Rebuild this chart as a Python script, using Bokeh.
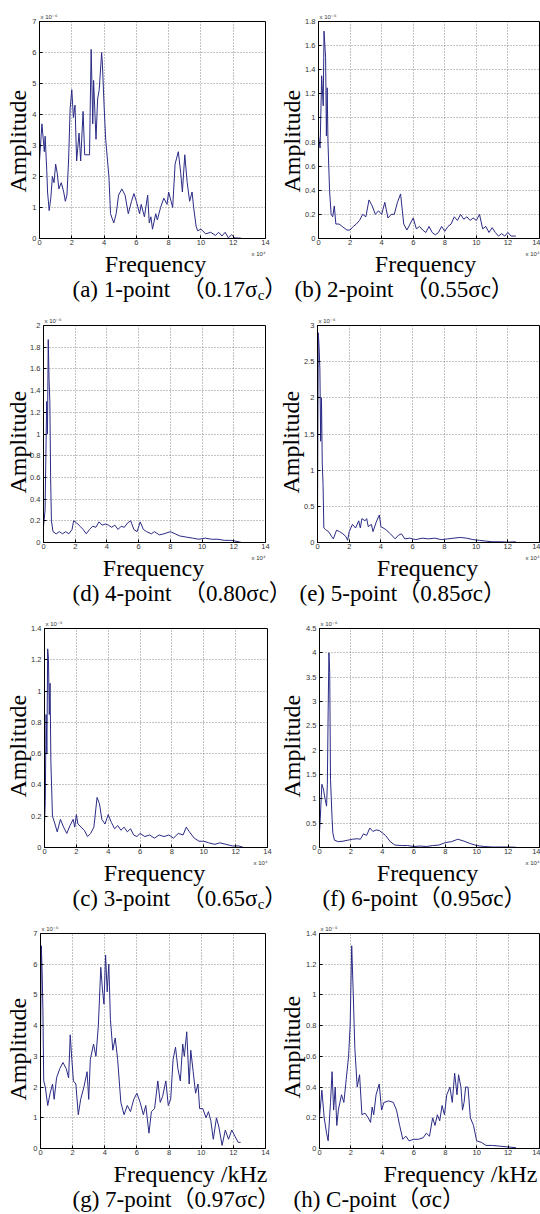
from bokeh.plotting import figure
from bokeh.models import Range1d, FixedTicker, Label, Title
from bokeh.layouts import column, row
from bokeh.embed import file_html
from bokeh.resources import INLINE

# ---------------- data ----------------
x_ticks = [0, 2, 4, 6, 8, 10, 12, 14]
x_tick_labels = ["0", "2", "4", "6", "8", "10", "12", "14"]

# (a) 1-point
a_freq = [0, 0.15, 0.3, 0.35, 0.45, 0.5, 0.6, 0.7, 0.8, 0.9,
          1.0, 1.1, 1.2, 1.35, 1.5, 1.6, 1.7, 1.8, 1.9, 2.0,
          2.1, 2.2, 2.3, 2.45, 2.55, 2.7, 2.8, 3.1, 3.15, 3.2,
          3.3, 3.35, 3.5, 3.6, 3.7, 3.85, 3.9, 4.0, 4.1, 4.3,
          4.4, 4.6, 4.75, 4.9, 5.1, 5.3, 5.5, 5.7, 5.85, 6.0,
          6.2, 6.3, 6.5, 6.7, 6.8, 6.9, 7.0, 7.2, 7.3, 7.5,
          7.7, 7.9, 8.0, 8.15, 8.25, 8.4, 8.6, 8.75, 8.85, 9.0,
          9.15, 9.3, 9.45, 9.55, 9.7, 9.8, 10.0, 10.3, 10.6, 10.9,
          11.1, 11.3, 11.5, 11.7, 11.9, 12.1, 12.5]
a_amp = [2.5, 3.7, 2.8, 3.3, 2.2, 1.5, 0.9, 1.3, 2.0, 1.8,
         2.4, 2.1, 1.6, 1.8, 1.5, 1.2, 1.4, 2.5, 4.2, 4.8,
         3.9, 4.3, 2.5, 3.4, 2.5, 4.1, 2.7, 2.7, 4.5, 6.1,
         3.7, 5.1, 3.2, 4.5, 4.8, 6.0, 5.6, 4.3, 3.2, 2.0,
         0.8, 0.5, 0.8, 1.4, 1.6, 1.4, 0.8, 1.2, 1.45, 1.2,
         0.8, 1.1, 0.7, 1.4, 0.5, 0.7, 0.3, 0.8, 0.6, 1.0,
         1.3, 1.1, 1.5, 1.2, 1.0, 2.4, 2.8, 2.1, 1.5, 2.7,
         1.8, 1.2, 1.5, 1.0, 0.4, 0.25, 0.3, 0.15, 0.2, 0.1,
         0.2, 0.08, 0.2, 0.02, 0.12, 0.02, 0.01]
a_yticks = [0, 1, 2, 3, 4, 5, 6, 7]
a_ylabels = ["0", "1", "2", "3", "4", "5", "6", "7"]

# (b) 2-point
b_freq = [0, 0.1, 0.2, 0.3, 0.35, 0.45, 0.5, 0.55, 0.6, 0.7,
          0.8, 0.9, 1.0, 1.1, 1.3, 1.5, 1.8, 2.0, 2.2, 2.4,
          2.6, 2.8, 3.0, 3.2, 3.4, 3.6, 3.8, 4.0, 4.2, 4.4,
          4.6, 4.8, 5.0, 5.2, 5.4, 5.6, 5.8, 6.0, 6.2, 6.4,
          6.6, 6.8, 7.0, 7.2, 7.4, 7.6, 7.8, 8.0, 8.2, 8.4,
          8.6, 8.8, 9.0, 9.2, 9.4, 9.6, 9.8, 10.0, 10.2, 10.4,
          10.6, 10.8, 11.0, 11.2, 11.4, 11.6, 11.8, 12.0, 12.2, 12.5]
b_amp = [0.85, 0.75, 1.35, 1.1, 1.72, 1.5, 0.85, 1.25, 0.8, 0.4,
         0.2, 0.18, 0.27, 0.12, 0.12, 0.1, 0.07, 0.07, 0.1, 0.12,
         0.15, 0.2, 0.18, 0.32, 0.27, 0.2, 0.23, 0.2, 0.3, 0.17,
         0.2, 0.2, 0.3, 0.37, 0.12, 0.07, 0.12, 0.17, 0.08, 0.1,
         0.07, 0.05, 0.1, 0.05, 0.03, 0.05, 0.1, 0.06, 0.1, 0.12,
         0.18, 0.15, 0.2, 0.16, 0.18, 0.15, 0.17, 0.15, 0.2, 0.08,
         0.1, 0.05, 0.09, 0.05, 0.02, 0.04, 0.02, 0.05, 0.02, 0.02]
b_yticks = [0, 0.2, 0.4, 0.6, 0.8, 1, 1.2, 1.4, 1.6, 1.8]
b_ylabels = ["0", "0.2", "0.4", "0.6", "0.8", "1", "1.2", "1.4", "1.6", "1.8"]

# (d) 4-point
d_freq = [0, 0.1, 0.2, 0.25, 0.3, 0.35, 0.4, 0.45, 0.5, 0.6,
          0.8, 1.0, 1.2, 1.4, 1.6, 1.8, 1.9, 2.1, 2.3, 2.5,
          2.7, 2.9, 3.1, 3.3, 3.5, 3.7, 3.9, 4.1, 4.3, 4.5,
          4.7, 4.9, 5.1, 5.3, 5.5, 5.7, 5.9, 6.1, 6.3, 6.5,
          6.8, 7.0, 7.3, 7.6, 8.0, 8.3, 8.6, 9.0, 9.4, 9.8,
          10.2, 10.6, 11.0, 11.4, 11.8, 12.2, 12.5]
d_amp = [0.15, 0.3, 1.3, 1.0, 1.87, 1.5, 1.3, 0.6, 0.2, 0.1,
         0.08, 0.1, 0.08, 0.1, 0.08, 0.12, 0.2, 0.18, 0.15, 0.12,
         0.08, 0.12, 0.15, 0.14, 0.19, 0.16, 0.17, 0.16, 0.14, 0.16,
         0.12, 0.15, 0.14, 0.18, 0.2, 0.12, 0.1, 0.19, 0.12, 0.1,
         0.08, 0.1, 0.07, 0.08, 0.1, 0.08, 0.06, 0.05, 0.04, 0.03,
         0.04, 0.03, 0.03, 0.02, 0.02, 0.01, 0.0]
d_yticks = [0, 0.2, 0.4, 0.6, 0.8, 1, 1.2, 1.4, 1.6, 1.8, 2]
d_ylabels = ["0", "0.2", "0.4", "0.6", "0.8", "1", "1.2", "1.4", "1.6", "1.8", "2"]

# (e) 5-point
e_freq = [0, 0.05, 0.1, 0.15, 0.2, 0.25, 0.3, 0.35, 0.4, 0.5,
          0.7, 0.9, 1.0, 1.2, 1.4, 1.6, 1.8, 1.9, 2.0, 2.2,
          2.4, 2.6, 2.7, 2.8, 3.0, 3.1, 3.2, 3.4, 3.5, 3.7,
          3.9, 4.0, 4.3, 4.6, 4.9, 5.1, 5.3, 5.5, 5.8, 6.2,
          6.6, 7.0, 7.4, 7.8, 8.2, 8.6, 9.0, 9.4, 9.8, 10.2,
          10.6, 11.0, 11.5, 12.0, 12.5]
e_amp = [0.3, 2.9, 2.7, 2.4, 1.4, 2.0, 1.1, 0.8, 0.2, 0.18,
         0.15, 0.08, 0.05, 0.17, 0.15, 0.12, 0.08, 0.03, 0.15, 0.25,
         0.2, 0.3, 0.2, 0.33, 0.3, 0.33, 0.22, 0.25, 0.15, 0.28,
         0.38, 0.22, 0.18, 0.12, 0.05, 0.1, 0.12, 0.05, 0.06, 0.04,
         0.06, 0.05, 0.06, 0.04, 0.05, 0.06, 0.07, 0.06, 0.04, 0.03,
         0.02, 0.01, 0.01, 0.005, 0.01]
e_yticks = [0, 0.5, 1, 1.5, 2, 2.5, 3]
e_ylabels = ["0", "0.5", "1", "1.5", "2", "2.5", "3"]

# (c) 3-point
c_freq = [0, 0.05, 0.1, 0.15, 0.2, 0.25, 0.3, 0.35, 0.4, 0.5,
          0.6, 0.8, 1.0, 1.2, 1.4, 1.6, 1.8, 1.9, 2.0, 2.1,
          2.3, 2.5, 2.7, 2.9, 3.1, 3.3, 3.45, 3.6, 3.8, 4.0,
          4.2, 4.4, 4.6, 4.8, 5.0, 5.2, 5.4, 5.6, 5.8, 6.0,
          6.3, 6.6, 6.9, 7.2, 7.5, 7.8, 8.1, 8.4, 8.7, 8.9,
          9.1, 9.4, 9.7, 10.0, 10.3, 10.7, 11.0, 11.4, 11.8, 12.2, 12.5]
c_amp = [0.15, 0.3, 0.85, 0.6, 1.27, 1.2, 0.85, 1.05, 0.55, 0.2,
         0.17, 0.1, 0.18, 0.13, 0.09, 0.14, 0.18, 0.13, 0.21, 0.15,
         0.13, 0.11, 0.07, 0.09, 0.13, 0.32, 0.28, 0.18, 0.15, 0.21,
         0.16, 0.12, 0.14, 0.11, 0.13, 0.10, 0.12, 0.08, 0.07, 0.09,
         0.07, 0.08, 0.06, 0.08, 0.07, 0.08, 0.06, 0.09, 0.08, 0.13,
         0.1, 0.06, 0.04, 0.04, 0.03, 0.02, 0.03, 0.02, 0.01, 0.01, 0.0]
c_yticks = [0, 0.2, 0.4, 0.6, 0.8, 1, 1.2, 1.4]
c_ylabels = ["0", "0.2", "0.4", "0.6", "0.8", "1", "1.2", "1.4"]

# (f) 6-point
f_freq = [0, 0.05, 0.15, 0.25, 0.35, 0.45, 0.5, 0.55, 0.6, 0.65,
          0.7, 0.75, 0.8, 0.85, 0.95, 1.2, 1.5, 1.8, 2.1, 2.4,
          2.6, 2.8, 3.0, 3.2, 3.4, 3.6, 3.8, 4.0, 4.2, 4.5,
          4.8, 5.2, 5.6, 6.0, 6.4, 6.8, 7.2, 7.6, 8.0, 8.4,
          8.8, 9.2, 9.6, 10.0, 10.5, 11.0, 11.5, 12.0, 12.5]
f_amp = [0.3, 0.6, 1.3, 1.2, 1.0, 0.85, 1.3, 2.8, 4.0, 3.6,
         1.4, 1.0, 0.6, 0.3, 0.15, 0.12, 0.13, 0.15, 0.17, 0.18,
         0.17, 0.28, 0.25, 0.4, 0.33, 0.36, 0.35, 0.3, 0.25, 0.12,
         0.05, 0.04, 0.04, 0.02, 0.03, 0.02, 0.04, 0.05, 0.1, 0.12,
         0.17, 0.13, 0.08, 0.04, 0.02, 0.01, 0.01, 0.01, 0.005]
f_yticks = [0, 0.5, 1, 1.5, 2, 2.5, 3, 3.5, 4, 4.5]
f_ylabels = ["0", "0.5", "1", "1.5", "2", "2.5", "3", "3.5", "4", "4.5"]

# (g) 7-point
g_freq = [0, 0.05, 0.1, 0.15, 0.2, 0.3, 0.45, 0.6, 0.75, 0.85,
          1.0, 1.2, 1.4, 1.6, 1.75, 1.85, 1.95, 2.05, 2.2, 2.35,
          2.5, 2.7, 2.9, 3.0, 3.1, 3.3, 3.45, 3.6, 3.75, 3.85,
          3.95, 4.05, 4.15, 4.25, 4.35, 4.5, 4.65, 4.8, 5.0, 5.2,
          5.4, 5.6, 5.8, 6.0, 6.2, 6.4, 6.55, 6.75, 6.9, 7.1,
          7.3, 7.45, 7.6, 7.8, 7.95, 8.1, 8.25, 8.4, 8.55, 8.7,
          8.85, 8.95, 9.1, 9.25, 9.35, 9.5, 9.65, 9.8, 9.9, 10.1,
          10.3, 10.45, 10.6, 10.75, 10.95, 11.1, 11.3, 11.5, 11.7, 11.9,
          12.1, 12.3, 12.45]
g_amp = [3.3, 6.6, 5.8, 4.5, 2.2, 2.0, 1.4, 1.8, 2.1, 1.6,
         2.3, 2.6, 2.8, 2.6, 2.3, 3.7, 2.9, 2.2, 2.1, 1.1,
         1.6, 2.0, 2.5, 1.6, 2.9, 3.4, 3.0, 4.0, 5.9, 5.2,
         4.7, 6.3, 5.1, 6.0, 4.2, 3.2, 3.6, 2.9, 1.5, 1.1,
         1.4, 1.2, 1.6, 1.8, 1.5, 1.1, 1.4, 0.5, 1.2, 1.3,
         2.2, 1.5, 1.7, 2.2, 1.4, 1.6, 2.9, 3.3, 2.6, 2.2,
         3.4, 3.0, 3.8, 2.1, 3.2, 2.5, 1.8, 2.1, 1.3, 1.3,
         1.0, 1.2, 0.9, 0.3, 1.0, 0.7, 0.1, 0.6, 0.3, 0.6,
         0.4, 0.2, 0.2]
g_yticks = [0, 1, 2, 3, 4, 5, 6, 7]
g_ylabels = ["0", "1", "2", "3", "4", "5", "6", "7"]

# (h) C-point
h_freq = [0, 0.15, 0.3, 0.45, 0.55, 0.7, 0.8, 0.9, 1.0, 1.1,
          1.2, 1.4, 1.55, 1.7, 1.85, 1.95, 2.05, 2.15, 2.25, 2.4,
          2.55, 2.7, 2.9, 3.1, 3.25, 3.35, 3.45, 3.6, 3.8, 3.95,
          4.1, 4.4, 4.7, 4.9, 5.1, 5.3, 5.5, 5.7, 6.0, 6.3,
          6.6, 6.8, 7.0, 7.2, 7.35, 7.5, 7.65, 7.8, 7.95, 8.1,
          8.3, 8.45, 8.6, 8.75, 8.85, 9.0, 9.1, 9.2, 9.3, 9.45,
          9.6, 9.8, 10.0, 10.3, 10.6, 11.0, 11.5, 12.0, 12.5]
h_amp = [0.2, 0.38, 0.2, 0.1, 0.05, 0.3, 0.5, 0.25, 0.4, 0.15,
         0.25, 0.35, 0.3, 0.45, 0.6, 0.8, 1.32, 1.0, 0.65, 0.4,
         0.48, 0.22, 0.23, 0.2, 0.17, 0.27, 0.22, 0.35, 0.42, 0.25,
         0.3, 0.31, 0.3, 0.25, 0.15, 0.06, 0.08, 0.05, 0.06, 0.06,
         0.07, 0.1, 0.08, 0.2, 0.15, 0.22, 0.18, 0.28, 0.22, 0.35,
         0.4, 0.3, 0.49, 0.35, 0.48, 0.4, 0.25, 0.3, 0.4, 0.4,
         0.2, 0.15, 0.05, 0.04, 0.02, 0.02, 0.015, 0.01, 0.005]
h_yticks = [0, 0.2, 0.4, 0.6, 0.8, 1, 1.2, 1.4]
h_ylabels = ["0", "0.2", "0.4", "0.6", "0.8", "1", "1.2", "1.4"]

y_exponents = {"a": "x 10⁻⁶", "b": "x 10⁻⁶", "d": "x 10⁻⁶", "e": "x 10⁻⁶",
               "c": "x 10⁻⁵", "f": "x 10⁻⁶", "g": "x 10⁻⁶", "h": "x 10⁻⁵"}
x_exponent = "x 10⁴"
y_label = "Amplitude"
x_label = "Frequency"
x_label_khz = "Frequency /kHz"

captions = {
    "a": ("(a) 1-point\u00a0\u00a0（0.17σ", "c", "）"),
    "b": ("(b) 2-point\u00a0\u00a0（0.55σc）", "", ""),
    "d": ("(d) 4-point\u00a0\u00a0（0.80σc）", "", ""),
    "e": ("(e) 5-point（0.85σc）", "", ""),
    "c": ("(c) 3-point\u00a0\u00a0（0.65σ", "c", "）"),
    "f": ("(f) 6-point（0.95σc）", "", ""),
    "g": ("(g) 7-point（0.97σc）", "", ""),
    "h": ("(h) C-point（σc）", "", ""),
}

# ---------------- style ----------------
SERIF = "'Liberation Serif', 'Noto Sans CJK SC'"
SANS = "'Liberation Sans', 'DejaVu Sans'"
LINE = "#2a2a86"
CAP_SIZE = 23
LAB_SIZE = 24
TICK_SIZE = 7.5
SHIFT = 0.288   # labels drawn on the "alphabetic" baseline land this many em lower

TIMES_W = {' ': 0.25, '\u00a0': 0.25, '(': 0.333, ')': 0.333, 'a': 0.444, 'b': 0.5,
           'c': 0.444, 'd': 0.5, 'e': 0.444, 'f': 0.333, 'g': 0.5, 'h': 0.5,
           '-': 0.333, 'p': 0.5, 'o': 0.5, 'i': 0.278, 'n': 0.5, 't': 0.278,
           '.': 0.25, 'C': 0.667, 'σ': 0.55, '（': 1.0, '）': 1.0}


def text_w(s, size):
    return sum(TIMES_W.get(ch, 0.5) for ch in s) * size


def tick_w(s):
    return sum(0.278 if ch == '.' else 0.556 for ch in s) * TICK_SIZE


def make_panel(freq, amp, yticks, ylabels, yexp, box, frame, amp_right, amp_bottom):
    fx0, fy0, fx1, fy1 = box
    fl, ft, fr, fb = frame
    p = figure(width=fx1 - fx0, height=fy1 - fy0,
               x_range=Range1d(0, 14), y_range=Range1d(0, yticks[-1]),
               toolbar_location=None, output_backend="svg", title=None,
               min_border_left=fl - fx0, min_border_right=fx1 - fr,
               min_border_top=ft - fy0, min_border_bottom=fy1 - fb)
    p.background_fill_color = "white"
    p.border_fill_color = "white"
    p.outline_line_color = "black"
    p.outline_line_width = 1
    p.line(freq, amp, line_color=LINE, line_width=1.0)

    p.xaxis.ticker = FixedTicker(ticks=x_ticks)
    p.xaxis.major_label_overrides = {t: l for t, l in zip(x_ticks, x_tick_labels)}
    p.yaxis.ticker = FixedTicker(ticks=yticks)
    p.yaxis.major_label_overrides = {t: l for t, l in zip(yticks, ylabels)}
    for ax in (p.xaxis, p.yaxis):
        ax.major_tick_in = 3
        ax.major_tick_out = 0
        ax.minor_tick_line_color = None
        ax.major_label_text_font = SANS
        ax.major_label_text_font_size = f"{TICK_SIZE}px"
        ax.major_label_text_color = "#333333"
        ax.axis_line_color = "black"
        ax.major_tick_line_color = "black"
    p.xaxis.major_label_standoff = 1
    p.yaxis.major_label_standoff = 3
    for g in (p.xgrid, p.ygrid):
        g.grid_line_color = "#6a6a6a"
        g.grid_line_dash = "1 2"
        g.grid_line_width = 0.8

    # exponent of the y axis, above the frame on the left
    p.add_layout(Title(text=yexp, align="left", offset=1, vertical_align="bottom",
                       standoff=4, text_font=SANS, text_font_size="6px",
                       text_font_style="normal", text_color="#333333"), "above")

    # y-axis title (rotated, in the left side panel)
    ext = 3 + max(tick_w(s) for s in ylabels)
    s = 2 * (fl - ext - amp_right)
    s = min(s, (fl - fx0) - ext - 30)
    p.add_layout(Title(text=y_label, align="left", offset=fb - amp_bottom,
                       vertical_align="bottom", standoff=int(round(s)),
                       text_font=SERIF, text_font_size=f"{LAB_SIZE}px",
                       text_font_style="normal", text_color="black"), "left")
    return p


def add_text(c, x, baseline, text, size, font, align="left", color="black"):
    c.add_layout(Label(x=x, y=baseline - SHIFT * size, text=text, text_align=align,
                       text_baseline="alphabetic", text_font=font,
                       text_font_size=f"{size}px", text_color=color))


def make_strip(y0, y1, fb, xlabels, exps, items):
    """Band under a row of panels: x-axis titles, x exponents and captions."""
    h = y1 - y0
    c = figure(width=540, height=h, frame_width=540, frame_height=h,
               x_range=Range1d(0, 540), y_range=Range1d(y1, y0),
               toolbar_location=None, output_backend="svg", title=None,
               min_border_left=0, min_border_right=0, min_border_top=0,
               min_border_bottom=0, x_axis_type=None, y_axis_type=None)
    c.outline_line_color = None
    c.background_fill_color = "white"
    c.border_fill_color = "white"
    for text, x, align in xlabels:
        add_text(c, x, fb + 32, text, LAB_SIZE, SERIF, align)
    for x in exps:
        add_text(c, x, fb + 17, x_exponent, 6, SANS, "right", "#333333")
    base = fb + 58
    for key, x in items:
        main, sub, tail = captions[key]
        add_text(c, x, base, main, CAP_SIZE, SERIF)
        if sub:
            xs = x + text_w(main, CAP_SIZE)
            add_text(c, xs, base + 3, sub, 15, SERIF)
            add_text(c, xs + text_w(sub, 15), base, tail, CAP_SIZE, SERIF)
    return c


# page coordinates (the page is drawn from its top-left corner)
L0, L1, R0, R1 = 0, 278, 278, 540
AL, AR = 33, 303   # right edge of the rotated "Amplitude" text, left / right column

# row 1
pa = make_panel(a_freq, a_amp, a_yticks, a_ylabels, y_exponents["a"],
                (L0, 0, L1, 248), (39, 21, 265, 238), AL, 192)
pb = make_panel(b_freq, b_amp, b_yticks, b_ylabels, y_exponents["b"],
                (R0, 0, R1, 248), (317, 21, 539, 238), AR, 192)
s1 = make_strip(248, 304, 238, [(x_label, 155, "center"), (x_label, 425, "center")],
                [265, 539], [("a", 72), ("b", 294)])

# row 2
pd = make_panel(d_freq, d_amp, d_yticks, d_ylabels, y_exponents["d"],
                (L0, 304, L1, 552), (43, 319, 265, 542), AL, 493)
pe = make_panel(e_freq, e_amp, e_yticks, e_ylabels, y_exponents["e"],
                (R0, 304, R1, 552), (316, 325, 539, 542), AR, 493)
s2 = make_strip(552, 608, 542, [(x_label, 153, "center"), (x_label, 427, "center")],
                [265, 539], [("d", 72), ("e", 299)])

# row 3
pc = make_panel(c_freq, c_amp, c_yticks, c_ylabels, y_exponents["c"],
                (L0, 608, L1, 857), (44, 628, 267, 847), AL, 797)
pf = make_panel(f_freq, f_amp, f_yticks, f_ylabels, y_exponents["f"],
                (R0, 608, R1, 857), (318, 626, 539, 847), AR, 797)
s3 = make_strip(857, 914, 847, [(x_label, 154, "center"), (x_label, 427, "center")],
                [267, 539], [("c", 72), ("f", 322)])

# row 4
pg = make_panel(g_freq, g_amp, g_yticks, g_ylabels, y_exponents["g"],
                (L0, 914, L1, 1158), (40, 933, 265, 1148), AL, 1100)
ph = make_panel(h_freq, h_amp, h_yticks, h_ylabels, y_exponents["h"],
                (R0, 914, R1, 1158), (318, 933, 539, 1148), AR, 1098)
s4 = make_strip(1158, 1214, 1148, [(x_label_khz, 267, "right"), (x_label_khz, 537, "right")],
                [], [("g", 72), ("h", 293)])

layout = column(row(pa, pb), s1, row(pd, pe), s2, row(pc, pf), s3, row(pg, ph), s4)

open("out.html", "w").write(file_html(layout, INLINE))
